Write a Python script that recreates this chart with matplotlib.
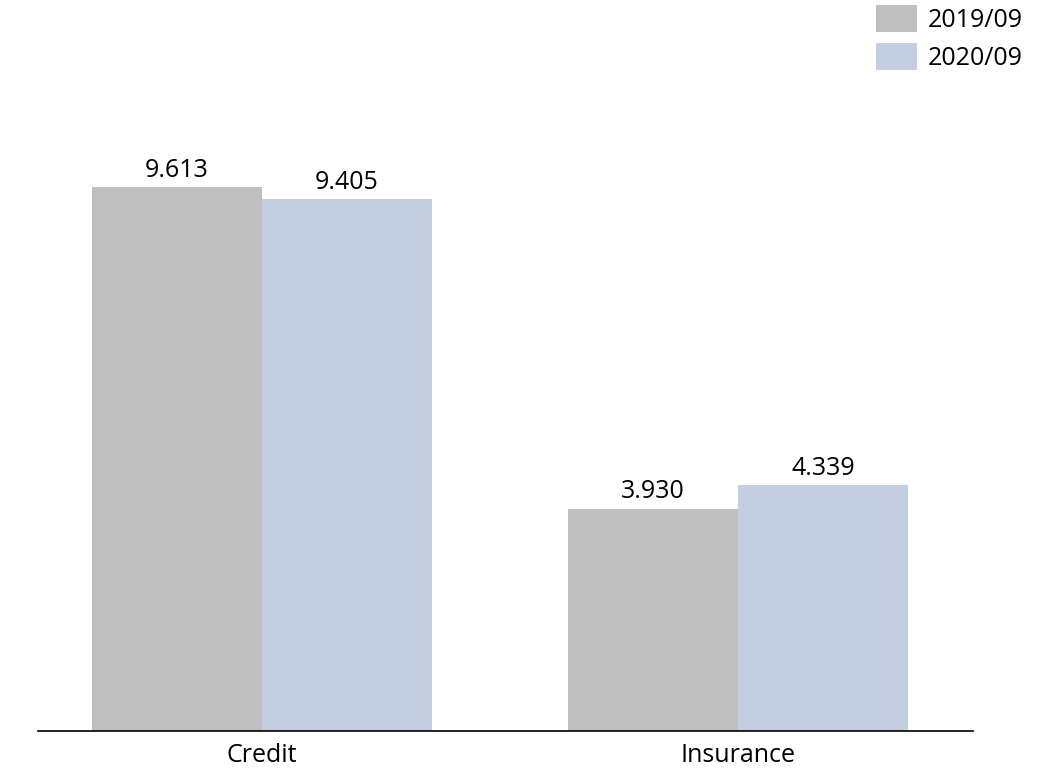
import matplotlib
matplotlib.use("Agg")
from matplotlib import pyplot as plt
from matplotlib.patches import Patch
import numpy as np

categories = ["Credit", "Insurance"]
series_names = ["2019/09", "2020/09"]
values_2019 = [9.613, 3.930]
values_2020 = [9.405, 4.339]
colors = ["#BFBFBF", "#C3CEE0"]

plt.rcParams["font.family"] = ["Open Sans", "DejaVu Sans"]

fig = plt.figure(figsize=(10.56, 7.73), dpi=100)
W, H = 1056, 773
# axes: x from 38 to 973 px, baseline at 731 px
ax = fig.add_axes([38 / W, (H - 731) / H, (973 - 38) / W, 679 / H])

x = np.arange(len(categories))
width = 0.357
b1 = ax.bar(x - width / 2, values_2019, width, color=colors[0])
b2 = ax.bar(x + width / 2, values_2020, width, color=colors[1])

ax.bar_label(b1, labels=["%.3f" % v for v in values_2019], padding=3, fontsize=18)
ax.bar_label(b2, labels=["%.3f" % v for v in values_2020], padding=3, fontsize=18)

ax.set_xlim(-0.4706, 1.4937)
ax.set_ylim(0, 12)
ax.set_xticks(x)
ax.set_xticklabels(categories, fontsize=18)
ax.tick_params(axis="x", length=0, pad=9)
ax.set_yticks([])
for s in ["top", "right", "left"]:
    ax.spines[s].set_visible(False)
ax.spines["bottom"].set_linewidth(1.2)
ax.spines["bottom"].set_color("black")

handles = [Patch(facecolor=c, edgecolor="none") for c in colors]
fig.legend(handles, series_names, loc="upper left",
           bbox_to_anchor=(876 / W, 1 - 5 / H), frameon=False, fontsize=18,
           handlelength=1.64, handleheight=1.28, labelspacing=0.4,
           handletextpad=0.44, borderpad=0, borderaxespad=0)

fig.savefig("out.png", dpi=100)
